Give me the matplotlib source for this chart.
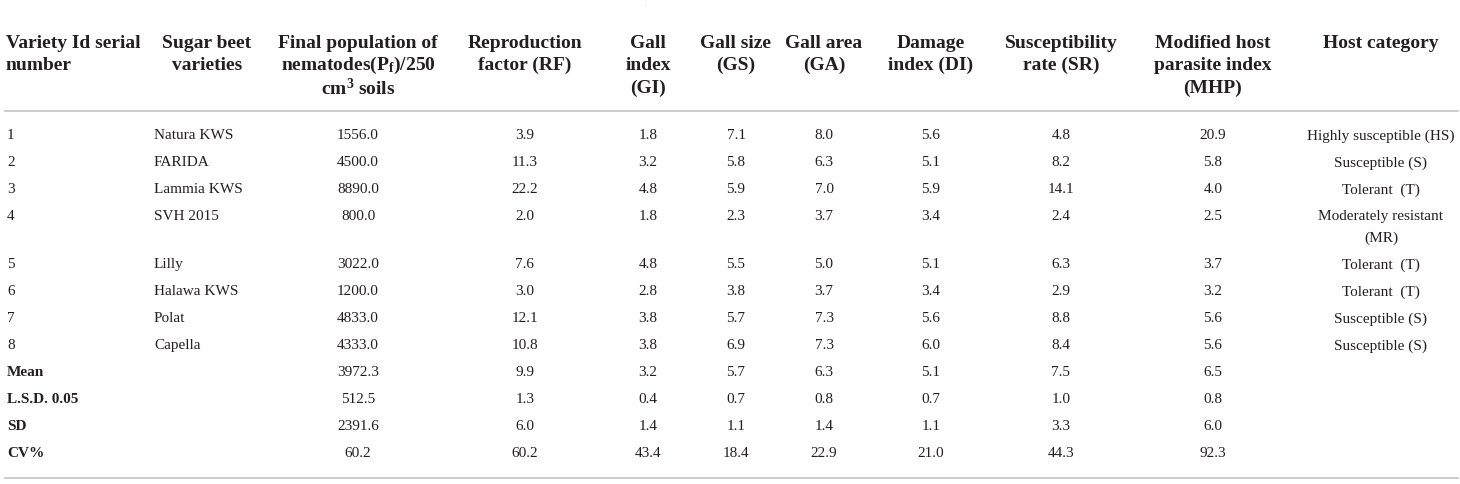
import matplotlib.pyplot as plt

plt.rcParams['font.family'] = ['Liberation Serif', 'DejaVu Serif']
plt.rcParams['mathtext.fontset'] = 'custom'
plt.rcParams['mathtext.rm'] = 'Liberation Serif:bold'
plt.rcParams['mathtext.it'] = 'Liberation Serif:bold'
plt.rcParams['mathtext.bf'] = 'Liberation Serif:bold'

# table content
headers = [
    ['Variety Id serial', 'number'],
    ['Sugar beet', 'varieties'],
    ['Final population of', r'nematodes(P$_{\mathrm{f}}$)/250', r'cm$^{3}$ soils'],
    ['Reproduction', 'factor (RF)'],
    ['Gall', 'index', '(GI)'],
    ['Gall size', '(GS)'],
    ['Gall area', '(GA)'],
    ['Damage', 'index (DI)'],
    ['Susceptibility', 'rate (SR)'],
    ['Modified host', 'parasite index', '(MHP)'],
    ['Host category'],
]

serial = ['1', '2', '3', '4', '5', '6', '7', '8']
varieties = ['Natura KWS', 'FARIDA', 'Lammia KWS', 'SVH 2015', 'Lilly',
             'Halawa KWS', 'Polat', 'Capella']
pf = [1556.0, 4500.0, 8890.0, 800.0, 3022.0, 1200.0, 4833.0, 4333.0]
rf = [3.9, 11.3, 22.2, 2.0, 7.6, 3.0, 12.1, 10.8]
gi = [1.8, 3.2, 4.8, 1.8, 4.8, 2.8, 3.8, 3.8]
gs = [7.1, 5.8, 5.9, 2.3, 5.5, 3.8, 5.7, 6.9]
ga = [8.0, 6.3, 7.0, 3.7, 5.0, 3.7, 7.3, 7.3]
di = [5.6, 5.1, 5.9, 3.4, 5.1, 3.4, 5.6, 6.0]
sr = [4.8, 8.2, 14.1, 2.4, 6.3, 2.9, 8.8, 8.4]
mhp = [20.9, 5.8, 4.0, 2.5, 3.7, 3.2, 5.6, 5.6]
host = ['Highly susceptible (HS)', 'Susceptible (S)', 'Tolerant  (T)',
        'Moderately resistant\n(MR)', 'Tolerant  (T)', 'Tolerant  (T)',
        'Susceptible (S)', 'Susceptible (S)']

stat_labels = ['Mean', 'L.S.D. 0.05', 'SD', 'CV%']
stat_pf = [3972.3, 512.5, 2391.6, 60.2]
stat_rf = [9.9, 1.3, 6.0, 60.2]
stat_gi = [3.2, 0.4, 1.4, 43.4]
stat_gs = [5.7, 0.7, 1.1, 18.4]
stat_ga = [6.3, 0.8, 1.4, 22.9]
stat_di = [5.1, 0.7, 1.1, 21.0]
stat_sr = [7.5, 1.0, 3.3, 44.3]
stat_mhp = [6.5, 0.8, 6.0, 92.3]

# layout (pixels)
W, H = 1460, 485
col_x = [7, 154, 358, 525, 648, 736, 824, 931, 1061, 1213, 1381]
head_x = [6, 207, 358, 525, 648, 736, 824, 931, 1061, 1213, 1381]
head_y0, head_dy = 43, 22.5
rule_top, rule_bot = 112, 479
row_y0, row_dy = 136, 27
text_col = '#231f20'
rule_col = '#c8c8c8'
fs_head, fs_body = 14, 11

fig = plt.figure(figsize=(W / 100, H / 100), dpi=100)
ax = fig.add_axes([0, 0, 1, 1])
ax.set_xlim(0, W)
ax.set_ylim(H, 0)
ax.axis('off')

ax.text(645, 4, '.', ha='center', va='center', fontsize=5, color='#999999')

for j, lines in enumerate(headers):
    ha = 'left' if j == 0 else 'center'
    for i, line in enumerate(lines):
        ax.text(head_x[j], head_y0 + i * head_dy, line, ha=ha, va='center',
                fontsize=fs_head, fontweight='bold', color=text_col)

ax.plot([5, 1458], [rule_top, rule_top], color=rule_col, lw=1.3)
ax.plot([5, 1458], [rule_bot, rule_bot], color=rule_col, lw=1.3)

numeric = [pf, rf, gi, gs, ga, di, sr, mhp]
y = row_y0
for r in range(len(serial)):
    ax.text(col_x[0], y, serial[r], ha='left', va='center', fontsize=fs_body, color=text_col)
    ax.text(col_x[1], y, varieties[r], ha='left', va='center', fontsize=fs_body, color=text_col)
    for k, col in enumerate(numeric):
        ax.text(col_x[k + 2], y, f'{col[r]:.1f}', ha='center', va='center',
                fontsize=fs_body, color=text_col)
    parts = host[r].split('\n')
    for i, p in enumerate(parts):
        ax.text(col_x[10], y + i * 21, p, ha='center', va='center',
                fontsize=fs_body, color=text_col)
    y += row_dy + (21 if len(parts) > 1 else 0)

stat_numeric = [stat_pf, stat_rf, stat_gi, stat_gs, stat_ga, stat_di, stat_sr, stat_mhp]
for r, lab in enumerate(stat_labels):
    ax.text(col_x[0], y, lab, ha='left', va='center', fontsize=fs_body,
            fontweight='bold', color=text_col)
    for k, col in enumerate(stat_numeric):
        ax.text(col_x[k + 2], y, f'{col[r]:.1f}', ha='center', va='center',
                fontsize=fs_body, color=text_col)
    y += row_dy

fig.savefig('out.png', dpi=100, facecolor='white')
